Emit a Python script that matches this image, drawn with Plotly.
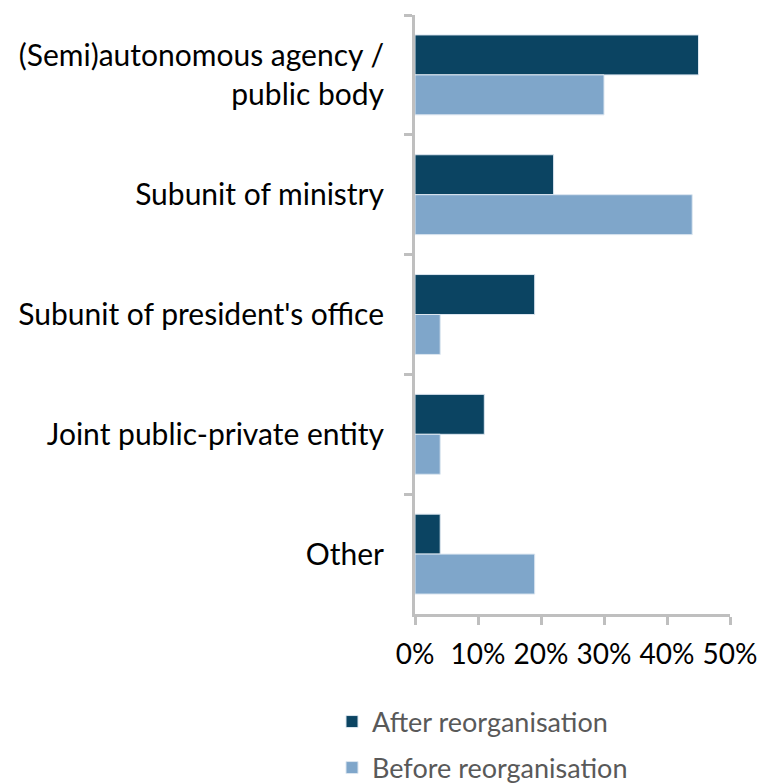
import plotly.graph_objects as go

categories = ["(Semi)autonomous agency /<br>public body", "Subunit of ministry",
              "Subunit of president's office", "Joint public-private entity", "Other"]
after_vals = [0.45, 0.22, 0.19, 0.11, 0.04]
before_vals = [0.30, 0.44, 0.04, 0.04, 0.19]
series_names = ["After reorganisation", "Before reorganisation"]
tick_vals = [0, 0.1, 0.2, 0.3, 0.4, 0.5]
tick_text = ["0%", "10%", "20%", "30%", "40%", "50%"]

FONT = "Lato"
W, H = 759, 784
ML, MR, MT, MB = 415, 29, 15, 170
pw = W - ML - MR
ph = H - MT - MB

def px_to_x(px):
    return (px - ML) / pw

def px_to_y(py):
    return (H - MB - py) / ph

fig = go.Figure()
fig.add_trace(go.Bar(y=categories, x=after_vals, orientation="h", name=series_names[0],
                     marker=dict(color="#0B4462", line=dict(color="#DCE6F0", width=1)),
                     legend="legend", showlegend=True))
fig.add_trace(go.Bar(y=categories, x=before_vals, orientation="h", name=series_names[1],
                     marker=dict(color="#7FA6CA", line=dict(color="#DCE6F0", width=1)),
                     legend="legend2", showlegend=True))

legend_common = dict(font=dict(family=FONT, size=27, color="#595959"),
                     bgcolor="rgba(0,0,0,0)", xanchor="left", yanchor="middle",
                     visible=True)

fig.update_layout(
    width=W, height=H,
    margin=dict(l=ML, r=MR, t=MT, b=MB, autoexpand=False),
    paper_bgcolor="white", plot_bgcolor="white",
    showlegend=True,
    barmode="group", bargap=0.333, bargroupgap=0,
    font=dict(family=FONT, size=30, color="black"),
    legend=dict(x=px_to_x(332), y=px_to_y(722), **legend_common),
    legend2=dict(x=px_to_x(332), y=px_to_y(768), **legend_common),
    xaxis=dict(range=[0, 0.5], tickvals=tick_vals, ticktext=tick_text,
               showgrid=False, zeroline=False, showline=True, automargin=False,
               linecolor="#BFBFBF", linewidth=3,
               ticks="outside", ticklen=8, tickwidth=3, tickcolor="#BFBFBF",
               ticklabelstandoff=5,
               tickfont=dict(family=FONT, size=28, color="black")),
    yaxis=dict(type="category", autorange="reversed", tickson="boundaries",
               showgrid=False, zeroline=False, showline=True, automargin=False,
               linecolor="#BFBFBF", linewidth=3,
               ticks="outside", ticklen=8, tickwidth=3, tickcolor="#BFBFBF",
               ticklabelstandoff=22,
               tickfont=dict(family=FONT, size=30, color="black")),
)

fig.write_html("out.html")
